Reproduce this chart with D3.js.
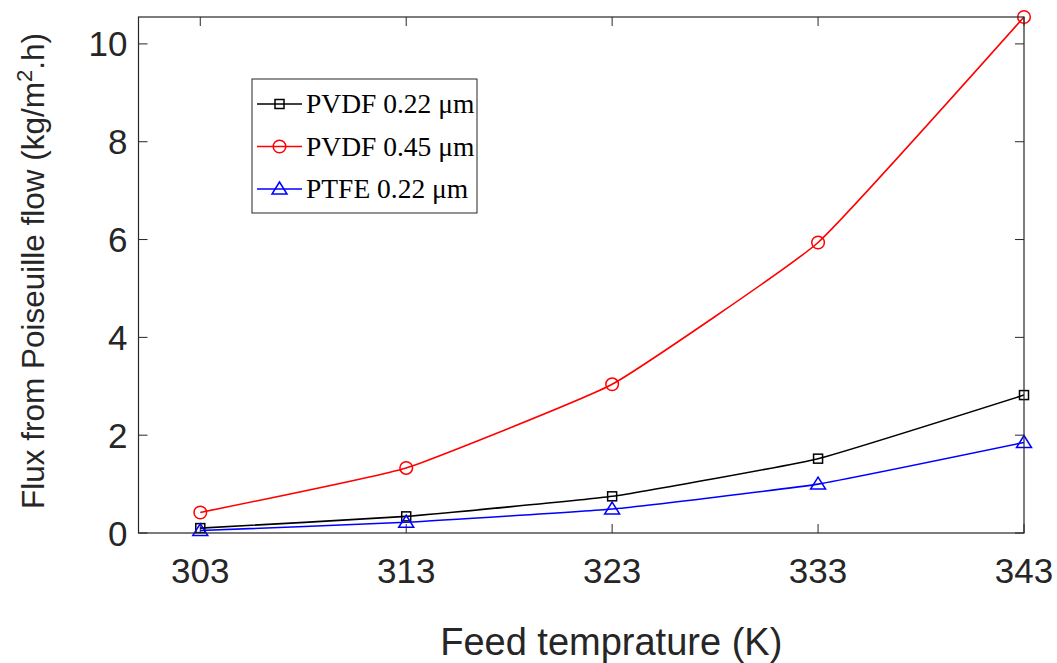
<!DOCTYPE html>
<html>
<head>
<meta charset="utf-8">
<script src="https://cdn.jsdelivr.net/npm/d3@7"></script>
<style>
  body { margin: 0; background: #fff; }
  svg { display: block; }
</style>
</head>
<body>
<div class="container"></div>
<script>
let width = 1057;
let height = 663;
let margin = { top: 17, right: 33, bottom: 130, left: 138.5 };

let temps = [303, 313, 323, 333, 343];
let pvdf22 = [0.1, 0.34, 0.75, 1.52, 2.82];
let pvdf45 = [0.42, 1.33, 3.04, 5.94, 10.55];
let ptfe22 = [0.05, 0.22, 0.49, 1.0, 1.85];
let yTicks = [0, 2, 4, 6, 8, 10];

let series = [
  { name: 'PVDF 0.22 \u03bcm', values: pvdf22, color: '#000000', marker: 'square' },
  { name: 'PVDF 0.45 \u03bcm', values: pvdf45, color: '#ff0000', marker: 'circle' },
  { name: 'PTFE 0.22 \u03bcm', values: ptfe22, color: '#0000ff', marker: 'triangle' }
];

let axisColor = '#262626';
let tickLen = 9;

let svg = d3.select('.container').append('svg')
  .attr('width', width)
  .attr('height', height);

let x = d3.scaleLinear().domain([300, 343]).range([margin.left, width - margin.right]);
let y = d3.scaleLinear().domain([0, 10.55]).range([height - margin.bottom, margin.top]);

let x0 = x.range()[0], x1 = x.range()[1];
let y0 = y.range()[0], y1 = y.range()[1];

// ticks, inward on all four sides
let ticks = svg.append('g').attr('stroke', axisColor).attr('stroke-width', 1);
for (let t of temps) {
  ticks.append('line').attr('x1', x(t)).attr('x2', x(t)).attr('y1', y0).attr('y2', y0 - tickLen);
  ticks.append('line').attr('x1', x(t)).attr('x2', x(t)).attr('y1', y1).attr('y2', y1 + tickLen);
}
for (let t of yTicks) {
  ticks.append('line').attr('x1', x0).attr('x2', x0 + tickLen).attr('y1', y(t)).attr('y2', y(t));
  ticks.append('line').attr('x1', x1).attr('x2', x1 - tickLen).attr('y1', y(t)).attr('y2', y(t));
}

// tick labels
svg.append('g').selectAll('text')
  .data(temps)
  .enter().append('text')
  .text((d) => d)
  .attr('x', (d) => x(d))
  .attr('y', y0 + 50)
  .attr('text-anchor', 'middle')
  .attr('fill', axisColor)
  .style('font-family', 'Arial, "Liberation Sans", sans-serif')
  .style('font-size', '35px');

svg.append('g').selectAll('text')
  .data(yTicks)
  .enter().append('text')
  .text((d) => d)
  .attr('x', x0 - 11)
  .attr('y', (d) => y(d) + 12.5)
  .attr('text-anchor', 'end')
  .attr('fill', axisColor)
  .style('font-family', 'Arial, "Liberation Sans", sans-serif')
  .style('font-size', '35px');

// axis labels
svg.append('text')
  .text('Feed temprature (K)')
  .attr('x', (x0 + x1) / 2 + 30)
  .attr('y', 655)
  .attr('text-anchor', 'middle')
  .attr('fill', axisColor)
  .style('font-family', 'Arial, "Liberation Sans", sans-serif')
  .style('font-size', '38px');

let ylab = svg.append('text')
  .attr('transform', `translate(44, ${271}) rotate(-90)`)
  .attr('text-anchor', 'middle')
  .attr('fill', axisColor)
  .style('font-family', 'Arial, "Liberation Sans", sans-serif')
  .style('font-size', '31.5px');
ylab.append('tspan').text('Flux from Poiseuille flow (kg/m');
ylab.append('tspan').text('2').attr('dy', -12).style('font-size', '22px');
ylab.append('tspan').text('.h)').attr('dy', 12);

// lines
let line = d3.line()
  .x((d, i) => x(temps[i]))
  .y((d) => y(d))
  .curve(d3.curveCardinal.tension(0.65));

function drawMarker(g, type, cx, cy, color) {
  if (type === 'square') {
    g.append('rect')
      .attr('x', cx - 4.5).attr('y', cy - 4.5)
      .attr('width', 9).attr('height', 9)
      .attr('fill', 'none').attr('stroke', color).attr('stroke-width', 1.5);
  } else if (type === 'circle') {
    g.append('circle')
      .attr('cx', cx).attr('cy', cy).attr('r', 6.3)
      .attr('fill', 'none').attr('stroke', color).attr('stroke-width', 1.5);
  } else {
    g.append('path')
      .attr('d', `M${cx},${cy - 7} L${cx + 7.5},${cy + 5} L${cx - 7.5},${cy + 5} Z`)
      .attr('fill', 'none').attr('stroke', color).attr('stroke-width', 1.5);
  }
}

for (let s of series) {
  let g = svg.append('g');
  g.append('path')
    .attr('d', line(s.values))
    .attr('fill', 'none')
    .attr('stroke', s.color)
    .attr('stroke-width', 1.6);
  s.values.forEach((v, i) => drawMarker(g, s.marker, x(temps[i]), y(v), s.color));
}

// axes box
svg.append('rect')
  .attr('x', x0).attr('y', y1)
  .attr('width', x1 - x0).attr('height', y0 - y1)
  .attr('fill', 'none')
  .attr('stroke', axisColor)
  .attr('stroke-width', 1.2);

// legend
let legend = svg.append('g').attr('transform', 'translate(252, 79)');
legend.append('rect')
  .attr('width', 225).attr('height', 134)
  .attr('fill', '#fff')
  .attr('stroke', axisColor)
  .attr('stroke-width', 1);

series.forEach((s, i) => {
  let ly = 25 + i * 42.5;
  legend.append('line')
    .attr('x1', 5).attr('x2', 50).attr('y1', ly).attr('y2', ly)
    .attr('stroke', s.color).attr('stroke-width', 1.5);
  drawMarker(legend, s.marker, 27.5, ly, s.color);
  legend.append('text')
    .text(s.name)
    .attr('x', 54)
    .attr('y', ly + 9)
    .attr('fill', '#000')
    .style('font-family', '"Times New Roman", "Liberation Serif", serif')
    .style('font-size', '27.5px');
});
</script>
</body>
</html>
